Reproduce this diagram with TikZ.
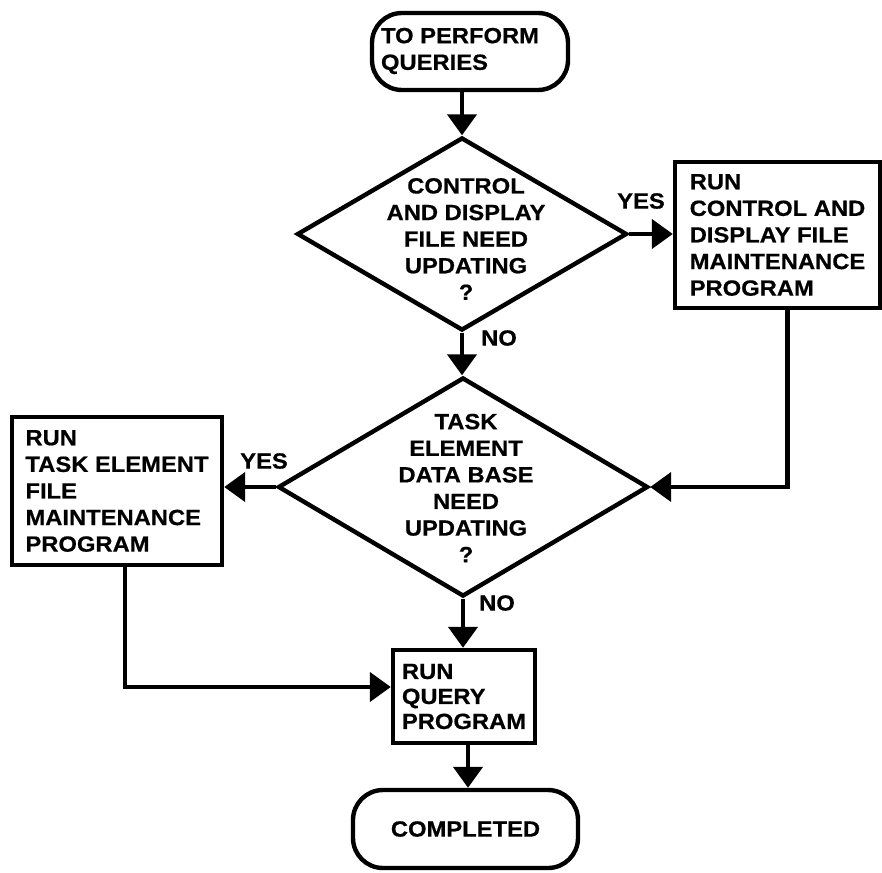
\documentclass[tikz,border=0pt]{standalone}
\usepackage{fontspec}
\setmainfont{Liberation Sans}[FakeStretch=1.08, BoldFeatures={FakeBold=0.6}]
\usetikzlibrary{shapes.geometric,arrows.meta}
\begin{document}
\begin{tikzpicture}[x=0.5pt,y=-0.5pt,
  txt/.style={font=\fontsize{11}{13.3}\selectfont\bfseries, align=left, inner sep=0pt},
  ctxt/.style={txt, align=center},
  terminal/.style={draw, line width=2.2pt, rounded corners=15pt, inner sep=0pt},
  process/.style={draw, line width=2.2pt, txt},
  decision/.style={draw, line width=2.2pt, diamond, inner sep=0pt},
  flow/.style={line width=2.2pt, -{Triangle[length=10.5pt,width=14.5pt]}},
  plain/.style={line width=2.2pt}]
\useasboundingbox (0,0) rectangle (882,872);

% terminals
\node[terminal, minimum width=98pt, minimum height=38.5pt] (start) at (470,51.5) {};
\node[txt] (startlbl) at (460,51) {TO PERFORM\\QUERIES};
\node[terminal, minimum width=112.5pt, minimum height=39pt, txt] (stop) at (465.5,829) {COMPLETED};

% decisions
\node[decision, minimum width=165pt, minimum height=96.5pt] (d1) at (462,234) {};
\node[ctxt] (d1lbl) at (466,239) {CONTROL\\AND DISPLAY\\FILE NEED\\UPDATING\\?};
\node[decision, minimum width=185pt, minimum height=109.5pt] (d2) at (463,487) {};
\node[ctxt] (d2lbl) at (466,488) {TASK\\ELEMENT\\DATA BASE\\NEED\\UPDATING\\?};

% processes
\node[process, minimum width=102.5pt, minimum height=73pt] (box1) at (777.5,235)
  {RUN\\CONTROL AND\\DISPLAY FILE\\MAINTENANCE\\PROGRAM};
\node[process, minimum width=105pt, minimum height=74pt] (box2) at (117,491)
  {RUN\\TASK ELEMENT\\FILE\\MAINTENANCE\\PROGRAM};
\node[process, minimum width=71pt, minimum height=46.5pt,
  font=\fontsize{11}{12.5}\selectfont\bfseries] (box3) at (464,696.5)
  {RUN\\QUERY\\PROGRAM};

% branch labels
\node[txt] (yes1) at (641,201) {YES};
\node[txt] (no1) at (499,338) {NO};
\node[txt] (yes2) at (264,461) {YES};
\node[txt] (no2) at (497,603) {NO};

% connectors
\draw[flow] (d1.north |- start.south) -- (d1.north);
\draw[flow] (d1.east) -- (d1.east -| box1.west);
\draw[flow] (d1.south) -- (d1.south |- d2.north);
\draw[flow] ([xshift=5pt]box1.south) |- (d2.east);
\draw[flow] (d2.west) -- (d2.west -| box2.east);
\draw[flow] (d2.south) -- (d2.south |- box3.north);
\draw[flow] ([xshift=4pt]box2.south) |- ([yshift=4.75pt]box3.west);
\draw[flow] ([xshift=2pt]box3.south) -- ([xshift=2pt]box3.south |- stop.north);
\end{tikzpicture}
\end{document}
